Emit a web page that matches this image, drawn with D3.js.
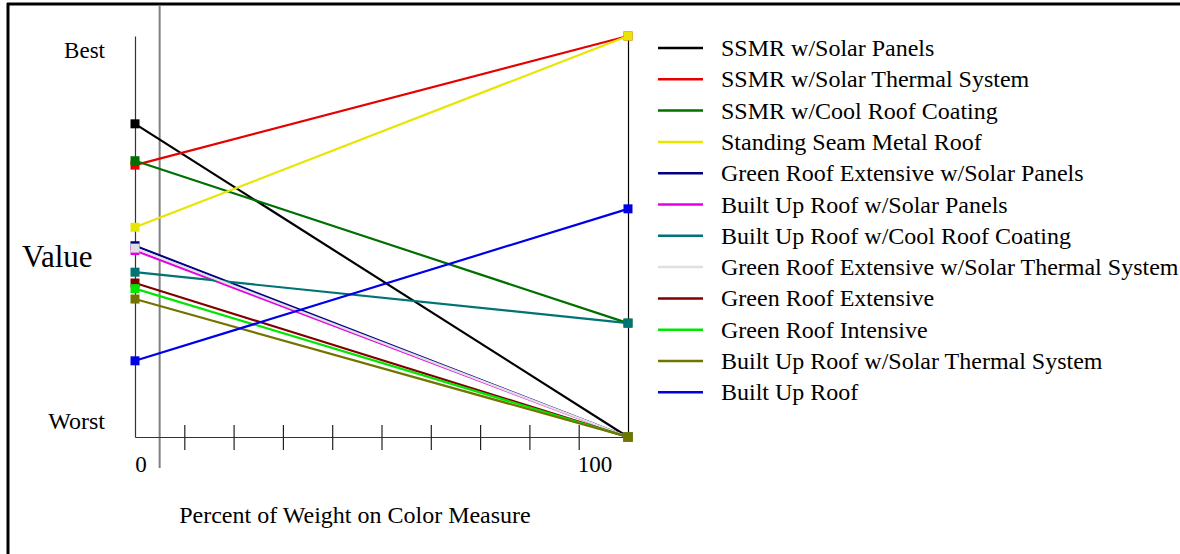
<!DOCTYPE html>
<html>
<head>
<meta charset="utf-8">
<script src="https://cdn.jsdelivr.net/npm/d3@7"></script>
<style>
  html, body { margin: 0; padding: 0; background: #fff; }
  svg { display: block; }
  text { font-family: "Liberation Serif", "Times New Roman", serif; fill: #000; }
</style>
</head>
<body>
<svg id="chart" width="1180" height="554"></svg>
<script>
// ---- data ----
const seriesNames = [
  "SSMR w/Solar Panels",
  "SSMR w/Solar Thermal System",
  "SSMR w/Cool Roof Coating",
  "Standing Seam Metal Roof",
  "Green Roof Extensive w/Solar Panels",
  "Built Up Roof w/Solar Panels",
  "Built Up Roof w/Cool Roof Coating",
  "Green Roof Extensive w/Solar Thermal System",
  "Green Roof Extensive",
  "Green Roof Intensive",
  "Built Up Roof w/Solar Thermal System",
  "Built Up Roof"
];
const seriesColors = [
  "#000000", "#e60000", "#007000", "#e6e600", "#000080", "#e600e6",
  "#007373", "#e0e0e0", "#800000", "#00e600", "#737300", "#0000e6"
];
const weights = [0, 100];                // percent of weight on colour measure
const valuesAt0 = [0.781, 0.678, 0.689, 0.523, 0.477, 0.465, 0.411, 0.471, 0.384, 0.370, 0.344, 0.190];
const valuesAt100 = [0, 1, 0.284, 1, 0, 0, 0.284, 0, 0, 0, 0, 0.569];
const xTickValues = [10, 20, 30, 40, 50, 60, 70, 80, 90];
const currentWeight = 5;
const yLabels = ["Worst", "Best"];

// ---- drawing ----
const svg = d3.select("#chart");
const x = d3.scaleLinear().domain([0, 100]).range([135, 628]);
const y = d3.scaleLinear().domain([0, 1]).range([437, 36]);

// frame (top and left border)
svg.append("line").attr("x1", 7).attr("x2", 1180).attr("y1", 4).attr("y2", 4)
  .attr("stroke", "#000").attr("stroke-width", 3);
svg.append("line").attr("x1", 8).attr("x2", 8).attr("y1", 3).attr("y2", 554)
  .attr("stroke", "#000").attr("stroke-width", 3);

// current weight marker line
svg.append("line").attr("x1", x(currentWeight)).attr("x2", x(currentWeight))
  .attr("y1", 5).attr("y2", 468).attr("stroke", "#808080").attr("stroke-width", 2);

// x axis with ticks
const xAxis = d3.axisBottom(x).tickValues(xTickValues).tickSize(0).tickFormat("");
const gx = svg.append("g").attr("transform", `translate(0,${y(0)})`).call(xAxis);
gx.select(".domain").attr("stroke", "#333").attr("stroke-width", 1.2);
gx.selectAll(".tick").append("line").attr("y1", -12).attr("y2", 13)
  .attr("stroke", "#222").attr("stroke-width", 1.2);

// left and right vertical axes
const yAxisL = d3.axisLeft(y).tickValues([]).tickSize(0);
svg.append("g").attr("transform", `translate(${x(0)},0)`).call(yAxisL)
  .select(".domain").attr("stroke", "#333").attr("stroke-width", 1.2);
svg.append("g").attr("transform", `translate(${x(100)},0)`).call(d3.axisRight(y).tickValues([]).tickSize(0))
  .select(".domain").attr("stroke", "#000").attr("stroke-width", 1.2);

// series lines
const series = seriesNames.map((name, i) => ({
  name, color: seriesColors[i],
  pts: [[weights[0], valuesAt0[i]], [weights[1], valuesAt100[i]]]
}));
const line = d3.line().x(d => x(d[0])).y(d => y(d[1]));
const gs = svg.append("g");
series.forEach(s => {
  gs.append("path").attr("d", line(s.pts)).attr("fill", "none")
    .attr("stroke", s.color).attr("stroke-width", 2.2);
  gs.selectAll(null).data(s.pts).enter().append("rect")
    .attr("x", d => x(d[0]) - 4.5).attr("y", d => y(d[1]) - 4.5)
    .attr("width", 9).attr("height", 9).attr("fill", s.color);
});

// y labels
svg.append("text").attr("x", 105).attr("y", y(1) + 22).attr("text-anchor", "end")
  .style("font-size", "23px").text(yLabels[1]);
svg.append("text").attr("x", 105).attr("y", y(0) - 8).attr("text-anchor", "end")
  .style("font-size", "24px").text(yLabels[0]);
svg.append("text").attr("x", 22).attr("y", 267)
  .style("font-size", "31px").text("Value");

// x labels
svg.append("text").attr("x", 141).attr("y", 472).attr("text-anchor", "middle")
  .style("font-size", "23px").text("0");
svg.append("text").attr("x", 595).attr("y", 472).attr("text-anchor", "middle")
  .style("font-size", "23px").text("100");
svg.append("text").attr("x", 355).attr("y", 523).attr("text-anchor", "middle")
  .style("font-size", "24px").text("Percent of Weight on Color Measure");

// legend
const lg = svg.append("g");
series.forEach((s, i) => {
  const yy = 48 + i * 31.3;
  lg.append("line").attr("x1", 658).attr("x2", 703).attr("y1", yy).attr("y2", yy)
    .attr("stroke", s.color).attr("stroke-width", 2.5);
  lg.append("text").attr("x", 721).attr("y", yy + 8)
    .style("font-size", "24px").text(s.name);
});
</script>
</body>
</html>
